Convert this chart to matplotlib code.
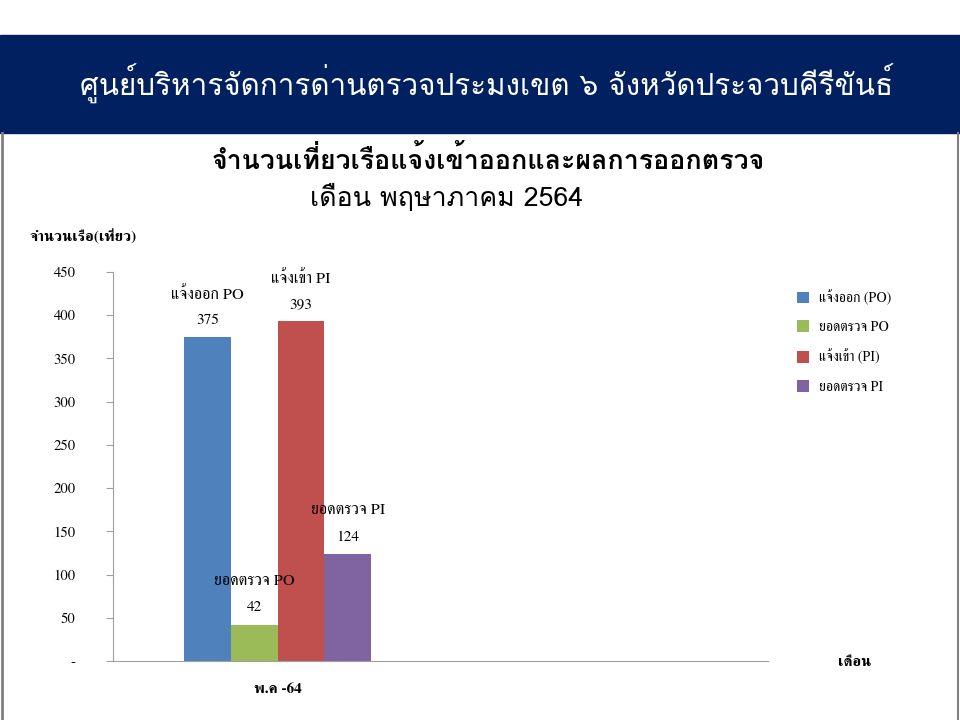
import matplotlib
matplotlib.use("Agg")
import matplotlib.pyplot as plt
from matplotlib.patches import Rectangle

# data
month_labels = ["พ.ค -64"]
series_names = ["แจ้งออก (PO)", "ยอดตรวจ PO", "แจ้งเข้า (PI)", "ยอดตรวจ PI"]
bar_labels = ["แจ้งออก PO", "ยอดตรวจ PO", "แจ้งเข้า PI", "ยอดตรวจ PI"]
values = [375, 42, 393, 124]
colors = ["#4F81BD", "#9BBB59", "#C0504D", "#8064A2"]
y_ticks = [0, 50, 100, 150, 200, 250, 300, 350, 400, 450]
y_tick_labels = ["-", "50", "100", "150", "200", "250", "300", "350", "400", "450"]

header = "ศูนย์บริหารจัดการด่านตรวจประมงเขต ๖ จังหวัดประจวบคีรีขันธ์"
title1 = "จำนวนเที่ยวเรือแจ้งเข้าออกและผลการออกตรวจ"
title2 = "เดือน พฤษาภาคม 2564"

# fonts with Thai glyphs
sans = ["Loma", "Noto Sans Thai Looped", "DejaVu Sans"]
serif = ["FreeSerif", "Liberation Serif", "Noto Sans Thai", "DejaVu Sans"]
plt.rcParams["font.family"] = sans

fig = plt.figure(figsize=(9.6, 7.2), dpi=100)
W, H = 960, 720

# header band
fig.patches.append(Rectangle((0, 1 - 133 / H), 1, 98 / H, transform=fig.transFigure,
                             color="#002060", zorder=0))
fig.text(487 / W, 1 - 84 / H, header, color="white", fontsize=21.3,
         ha="center", va="center", family=sans)
fig.add_artist(plt.Line2D([1.5 / W, 1.5 / W], [0, 1 - 133 / H], transform=fig.transFigure,
                          color="#808080", lw=2))
fig.add_artist(plt.Line2D([957.5 / W, 957.5 / W], [0, 1 - 133 / H], transform=fig.transFigure,
                          color="#808080", lw=1.5))

fig.text(488 / W, 1 - 160 / H, title1, fontsize=19.3, fontweight="bold",
         ha="center", va="center", family=sans)
fig.text(447 / W, 1 - 197 / H, title2, fontsize=19.3,
         ha="center", va="center", family=sans)
fig.text(30 / W, 1 - 237 / H, "จำนวนเรือ(เที่ยว)", fontsize=11, fontweight="bold",
         ha="left", va="center", family=serif)
fig.text(855 / W, 1 - 662 / H, "เดือน", fontsize=11, fontweight="bold",
         ha="center", va="center", family=serif)

ax = fig.add_axes([113 / W, 1 - 661 / H, 655 / W, 389 / H])
offsets = [-1.5, -0.5, 0.5, 1.5]
for off, v, c, name, lab in zip(offsets, values, colors, series_names, bar_labels):
    ax.bar(off, v, width=1, color=c, label=name)
    ax.annotate(str(v), (off, v), xytext=(0, 17), textcoords="offset pixels",
                ha="center", va="center", fontsize=11, family=serif)
    ax.annotate(lab, (off, v), xytext=(0, 43), textcoords="offset pixels",
                ha="center", va="center", fontsize=11.5, family=serif)

ax.set_xlim(-3.52, 10.49)
ax.set_ylim(0, 450)
ax.set_xticks([0])
ax.set_xticklabels(month_labels, fontsize=11, fontweight="bold", family=serif)
ax.tick_params(axis="x", length=0, pad=16)
ax.set_yticks(y_ticks)
ax.set_yticklabels(y_tick_labels, fontsize=10.5, family=serif)
ax.tick_params(axis="y", length=5, color="#A0A0A0", pad=22)
for s in ["top", "right"]:
    ax.spines[s].set_visible(False)
for s in ["left", "bottom"]:
    ax.spines[s].set_color("#A0A0A0")

fig.legend(loc="upper left", bbox_to_anchor=(784 / W, 1 - 277 / H), frameon=False,
           prop={"family": serif, "size": 10}, handlelength=0.9, handleheight=0.9,
           labelspacing=1.1, handletextpad=0.7)

fig.savefig("out.png", dpi=100)
